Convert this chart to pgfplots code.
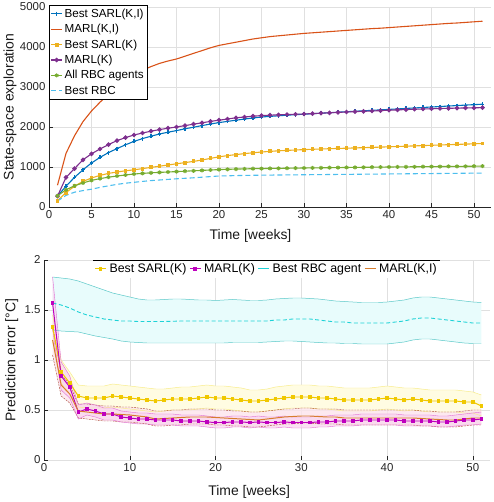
\documentclass[border=0pt]{standalone}
\usepackage{pgfplots}
\pgfplotsset{compat=1.18}
\usepackage{pgfplotstable}
\usepgfplotslibrary{fillbetween}
\usepackage{fontspec}
\setmainfont{Liberation Sans}
\definecolor{mblue}{RGB}{0,114,189}
\definecolor{morange}{RGB}{217,83,25}
\definecolor{myellow}{RGB}{237,177,32}
\definecolor{mpurple}{RGB}{126,47,142}
\definecolor{mgreen}{RGB}{119,172,48}
\definecolor{mlblue}{RGB}{77,190,238}
\definecolor{gold}{RGB}{240,200,0}
\definecolor{magc}{RGB}{190,0,190}
\definecolor{cyanc}{RGB}{30,210,215}
\definecolor{oranc}{RGB}{215,125,45}
\definecolor{cyanedge}{RGB}{90,200,200}
\definecolor{cyanfill}{RGB}{232,252,252}
\definecolor{yedge}{RGB}{248,236,140}
\definecolor{yfill}{RGB}{255,252,226}
\definecolor{medge}{RGB}{225,110,210}
\definecolor{mfill}{RGB}{250,212,238}
\definecolor{oedge}{RGB}{170,70,50}
\definecolor{ofill}{RGB}{252,228,236}

\pgfplotstableread{
x a b c d e f
1 272 545 160 270 280 150
2 520 1340 360 740 430 290
3 740 1780 520 960 530 370
4 930 2135 640 1180 600 410
5 1100 2400 725 1330 665 445
6 1240 2620 790 1450 710 490
7 1360 2820 840 1560 745 530
8 1460 3000 875 1660 775 565
9 1555 3150 905 1735 800 595
10 1640 3300 930 1800 825 617
11 1710 3420 960 1850 840 640
12 1770 3510 990 1895 855 660
13 1825 3590 1020 1935 865 675
14 1870 3650 1050 1970 875 690
15 1910 3700 1080 2000 885 705
16 1955 3770 1110 2035 895 718
17 1995 3840 1140 2070 905 730
18 2035 3910 1175 2105 915 745
19 2075 3980 1215 2140 925 760
20 2110 4040 1255 2170 935 775
21 2140 4080 1285 2200 942 780
22 2170 4120 1310 2230 948 785
23 2200 4160 1335 2250 953 790
24 2225 4200 1355 2270 957 793
25 2250 4230 1375 2285 960 796
26 2265 4260 1390 2295 963 798
27 2280 4280 1405 2305 966 800
28 2295 4300 1415 2312 969 802
29 2308 4320 1425 2318 972 804
30 2320 4340 1435 2325 975 806
31 2332 4355 1443 2335 978 808
32 2345 4370 1450 2345 980 810
33 2357 4385 1457 2355 983 812
34 2370 4400 1464 2365 985 814
35 2382 4415 1470 2375 988 816
36 2394 4430 1477 2385 990 818
37 2405 4445 1484 2392 992 820
38 2417 4460 1490 2400 995 822
39 2428 4470 1497 2410 997 824
40 2440 4485 1505 2420 1000 826
41 2452 4500 1513 2428 1002 828
42 2464 4515 1520 2436 1004 830
43 2476 4530 1528 2443 1006 832
44 2488 4545 1535 2450 1008 834
45 2500 4560 1543 2456 1010 836
46 2512 4575 1550 2462 1012 838
47 2524 4590 1558 2467 1014 840
48 2536 4600 1565 2472 1016 842
49 2548 4615 1572 2476 1018 844
50 2559 4630 1580 2480 1020 846
51 2570 4645 1588 2484 1022 848
}\toptable

\pgfplotstableread{
x sm su sl mm mu ml om ou ol cm cu cl
1 1.33 1.45 1.20 1.57 1.83 1.31 1.20 1.35 1.05 1.57 1.83 1.30
2 0.88 1.00 0.77 0.84 0.98 0.70 0.75 0.86 0.64 1.55 1.82 1.29
3 0.77 0.88 0.66 0.73 0.84 0.62 0.66 0.75 0.57 1.52 1.81 1.285
4 0.64 0.75 0.53 0.48 0.55 0.41 0.49 0.56 0.42 1.48 1.79 1.28
5 0.62 0.74 0.52 0.51 0.57 0.45 0.48 0.56 0.41 1.45 1.76 1.26
6 0.62 0.74 0.52 0.49 0.55 0.43 0.47 0.55 0.40 1.43 1.73 1.24
7 0.62 0.74 0.52 0.46 0.52 0.40 0.46 0.54 0.39 1.41 1.70 1.225
8 0.64 0.76 0.53 0.46 0.52 0.40 0.46 0.54 0.39 1.40 1.67 1.21
9 0.63 0.75 0.52 0.43 0.49 0.38 0.455 0.53 0.38 1.39 1.65 1.19
10 0.62 0.74 0.51 0.42 0.48 0.37 0.45 0.53 0.38 1.39 1.63 1.18
11 0.61 0.73 0.50 0.41 0.47 0.36 0.44 0.52 0.37 1.385 1.61 1.175
12 0.60 0.72 0.49 0.41 0.47 0.36 0.43 0.51 0.36 1.385 1.60 1.17
13 0.59 0.71 0.48 0.40 0.46 0.35 0.41 0.49 0.34 1.385 1.60 1.17
14 0.60 0.71 0.49 0.40 0.46 0.35 0.415 0.49 0.34 1.385 1.605 1.17
15 0.61 0.72 0.50 0.40 0.46 0.35 0.42 0.50 0.35 1.387 1.61 1.17
16 0.61 0.73 0.50 0.39 0.45 0.34 0.425 0.50 0.35 1.39 1.61 1.17
17 0.61 0.73 0.50 0.39 0.45 0.34 0.43 0.51 0.36 1.39 1.605 1.17
18 0.62 0.74 0.51 0.39 0.45 0.34 0.43 0.51 0.36 1.39 1.60 1.17
19 0.63 0.75 0.52 0.38 0.44 0.33 0.43 0.51 0.36 1.39 1.60 1.17
20 0.62 0.74 0.51 0.375 0.43 0.32 0.425 0.50 0.35 1.39 1.595 1.17
21 0.62 0.74 0.51 0.375 0.43 0.32 0.42 0.50 0.35 1.39 1.60 1.17
22 0.61 0.73 0.50 0.38 0.44 0.33 0.415 0.49 0.34 1.39 1.605 1.175
23 0.60 0.72 0.49 0.38 0.44 0.33 0.41 0.49 0.34 1.39 1.60 1.175
24 0.59 0.70 0.48 0.375 0.43 0.32 0.405 0.48 0.33 1.39 1.595 1.175
25 0.59 0.70 0.48 0.38 0.44 0.33 0.40 0.48 0.33 1.39 1.595 1.175
26 0.60 0.71 0.49 0.375 0.43 0.32 0.41 0.49 0.34 1.39 1.60 1.18
27 0.61 0.73 0.50 0.375 0.43 0.32 0.42 0.50 0.35 1.40 1.61 1.185
28 0.62 0.74 0.51 0.38 0.44 0.33 0.43 0.51 0.36 1.40 1.615 1.19
29 0.63 0.75 0.52 0.375 0.43 0.32 0.435 0.51 0.36 1.41 1.62 1.19
30 0.63 0.75 0.52 0.375 0.43 0.32 0.44 0.52 0.37 1.41 1.62 1.185
31 0.63 0.75 0.52 0.375 0.43 0.32 0.44 0.52 0.37 1.41 1.615 1.18
32 0.62 0.74 0.51 0.38 0.44 0.33 0.435 0.51 0.36 1.40 1.61 1.175
33 0.62 0.74 0.51 0.38 0.44 0.33 0.43 0.51 0.36 1.39 1.60 1.17
34 0.61 0.73 0.50 0.39 0.45 0.34 0.43 0.51 0.36 1.38 1.59 1.17
35 0.60 0.72 0.49 0.39 0.45 0.34 0.42 0.50 0.35 1.38 1.585 1.165
36 0.60 0.72 0.49 0.39 0.45 0.34 0.42 0.50 0.35 1.37 1.58 1.165
37 0.60 0.72 0.49 0.40 0.46 0.35 0.42 0.50 0.35 1.37 1.575 1.16
38 0.60 0.72 0.49 0.40 0.46 0.35 0.42 0.50 0.35 1.37 1.575 1.16
39 0.61 0.73 0.50 0.40 0.46 0.35 0.42 0.50 0.35 1.37 1.575 1.16
40 0.62 0.74 0.51 0.40 0.46 0.35 0.42 0.50 0.35 1.37 1.58 1.16
41 0.61 0.73 0.50 0.40 0.46 0.35 0.42 0.50 0.35 1.38 1.59 1.17
42 0.60 0.72 0.49 0.39 0.45 0.34 0.42 0.50 0.35 1.39 1.60 1.18
43 0.61 0.72 0.50 0.39 0.45 0.34 0.42 0.50 0.35 1.41 1.62 1.20
44 0.60 0.71 0.49 0.39 0.45 0.34 0.415 0.49 0.34 1.42 1.63 1.21
45 0.59 0.70 0.48 0.39 0.45 0.34 0.41 0.49 0.34 1.42 1.63 1.21
46 0.59 0.70 0.48 0.38 0.44 0.33 0.405 0.48 0.33 1.41 1.62 1.20
47 0.59 0.70 0.48 0.38 0.44 0.33 0.40 0.48 0.33 1.40 1.61 1.19
48 0.59 0.70 0.48 0.39 0.45 0.34 0.40 0.48 0.33 1.39 1.60 1.18
49 0.58 0.69 0.47 0.40 0.46 0.35 0.41 0.49 0.34 1.38 1.59 1.17
50 0.58 0.68 0.47 0.40 0.47 0.35 0.42 0.50 0.35 1.37 1.58 1.165
51 0.54 0.65 0.44 0.41 0.48 0.36 0.42 0.50 0.35 1.37 1.575 1.165
}\bottable

\pgfplotsset{
  mstyle/.style={
    scale only axis,
    xmin=0, xmax=52,
    axis x line*=bottom, axis y line*=left,
    grid=major, grid style={black!12, line width=0.4pt},
    tick align=inside, major tick length=4bp,
    tick style={black!85, line width=0.5pt},
    axis line style={black!85, line width=0.6pt},
    /pgf/number format/assume math mode=true,
    tick label style={font=\fontsize{11.5}{12}\selectfont, text=black!85},
    label style={font=\fontsize{14}{15}\selectfont, text=black!90},
    legend image code/.code={\draw[mark repeat=2,mark phase=2,##1] plot coordinates {(0cm,0cm) (0.19cm,0cm) (0.38cm,0cm)};},
    legend cell align=left,
  }
}

\begin{document}
\begin{tikzpicture}
\begin{axis}[mstyle,
  at={(49bp,295bp)}, anchor=south west,
  width=442bp, height=200bp,
  ymin=0, ymax=5000,
  xtick={0,5,...,50}, ytick={0,1000,...,5000},
  scaled y ticks=false,
  yticklabel style={/pgf/number format/1000 sep={}},
  xlabel={Time [weeks]}, ylabel={State-space exploration},
  xlabel style={at={(axis description cs:0.456,-0.145)}, anchor=center},
  ylabel style={at={(axis description cs:-0.088,0.5)}, anchor=center},
  legend style={at={(axis description cs:0,1.01)}, anchor=north west, draw=black, line width=0.5pt,
    fill=white, font=\fontsize{11.7}{12}\selectfont, inner sep=1.5bp, row sep=1.5bp},
]
\addplot[mblue, line width=1.1pt, mark=+, mark size=2pt] table[x=x,y=a]{\toptable};
\addlegendentry{Best SARL(K,I)}
\addplot[morange, line width=1.1pt] table[x=x,y=b]{\toptable};
\addlegendentry{MARL(K,I)}
\addplot[myellow, line width=1.1pt, mark=square*, mark size=1.4pt] table[x=x,y=c]{\toptable};
\addlegendentry{Best SARL(K)}
\addplot[mpurple, line width=1.1pt, mark=*, mark size=1.7pt] table[x=x,y=d]{\toptable};
\addlegendentry{MARL(K)}
\addplot[mgreen, line width=1.1pt, mark=asterisk, mark size=2pt] table[x=x,y=e]{\toptable};
\addlegendentry{All RBC agents}
\addplot[mlblue, line width=1.1pt, dash pattern=on 5pt off 3pt] table[x=x,y=f]{\toptable};
\addlegendentry{Best RBC}
\end{axis}

\begin{axis}[mstyle,
  at={(44bp,42bp)}, anchor=south west,
  width=446bp, height=200bp,
  ymin=0, ymax=2,
  xtick={0,10,...,50}, ytick={0,0.5,1,1.5,2},
  x axis line style={draw=none},
  xlabel={Time [weeks]}, ylabel={Prediction error [\textdegree C]},
  xlabel style={at={(axis description cs:0.46,-0.16)}, anchor=center},
  ylabel style={at={(axis description cs:-0.072,0.5)}, anchor=center},
  legend columns=4,
  legend style={at={(axis description cs:0.11,1)}, anchor=north west, draw=none,
    fill=white, font=\fontsize{12.4}{13}\selectfont, inner sep=1.5bp, column sep=1pt,
    append after command={(\tikzlastnode.north west) edge[black, line width=0.5pt] (\tikzlastnode.north east)}},
  legend entries={Best SARL(K),MARL(K),Best RBC agent,{MARL(K,I)}},
]
\addplot[name path=cu, cyanedge, line width=0.5pt, forget plot] table[x=x,y=cu]{\bottable};
\addplot[name path=cl, cyanedge, line width=0.5pt, forget plot] table[x=x,y=cl]{\bottable};
\addplot[cyanfill, forget plot] fill between[of=cu and cl];
\addplot[name path=su, yedge, line width=0.5pt, forget plot] table[x=x,y=su]{\bottable};
\addplot[name path=sl, yedge, line width=0.5pt, forget plot] table[x=x,y=sl]{\bottable};
\addplot[yfill, forget plot] fill between[of=su and sl];
\addplot[name path=ou, oedge, line width=0.4pt, dash pattern=on 2pt off 1pt, forget plot] table[x=x,y=ou]{\bottable};
\addplot[name path=ol, oedge, line width=0.4pt, dash pattern=on 2pt off 1pt, forget plot] table[x=x,y=ol]{\bottable};
\addplot[ofill, fill opacity=0.8, forget plot] fill between[of=ou and ol];
\addplot[name path=mu, medge, line width=0.4pt, forget plot] table[x=x,y=mu]{\bottable};
\addplot[name path=ml, medge, line width=0.4pt, forget plot] table[x=x,y=ml]{\bottable};
\addplot[mfill, fill opacity=0.7, forget plot] fill between[of=mu and ml];
\addplot[cyanc, line width=0.9pt, dash pattern=on 4pt off 2.5pt, forget plot] table[x=x,y=cm]{\bottable};
\addplot[gold, line width=1pt, mark=square*, mark size=1.3pt] table[x=x,y=sm]{\bottable};
\addplot[magc, line width=1pt, mark=square*, mark size=1.3pt] table[x=x,y=mm]{\bottable};
\addlegendimage{cyanc, line width=1pt}
\addplot[oranc, line width=1pt] table[x=x,y=om]{\bottable};
\end{axis}
\pgfresetboundingbox
\useasboundingbox (0bp,0bp) rectangle (494bp,502bp);
\end{tikzpicture}
\end{document}
